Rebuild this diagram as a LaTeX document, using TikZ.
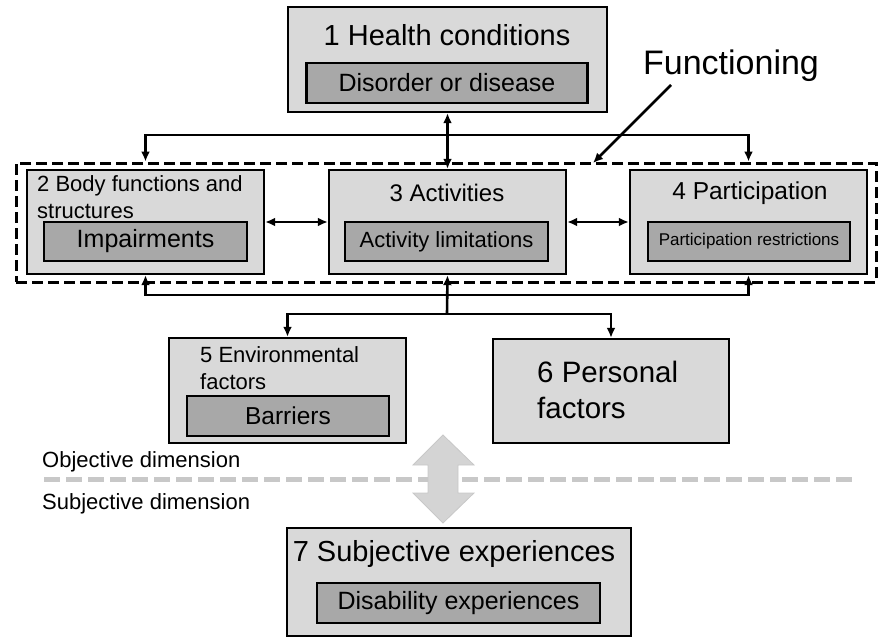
\documentclass[tikz,border=0pt]{standalone}
\usepackage{fontspec}
\setmainfont{Liberation Sans}
\usepackage{tikz}
\usetikzlibrary{shapes,arrows,arrows.meta,positioning}
\usepackage{color}

\definecolor{boxgray}{RGB}{217,217,217}
\definecolor{innergray}{RGB}{168,168,168}
\definecolor{linegray}{RGB}{200,200,200}
\definecolor{arrowgray}{RGB}{212,212,212}

\newcommand{\px}[1]{\fontsize{#1}{#1}\selectfont}

\tikzset{
  outerbox/.style={draw=black,fill=boxgray,line width=2.4pt,inner sep=0pt},
  innerbox/.style={draw=black,fill=innergray,line width=2.4pt,inner sep=0pt},
  lbl/.style={inner sep=0pt},
  link/.style={line width=2.6pt,>={Latex[length=10pt,width=9pt]}}
}

\begin{document}
\begin{tikzpicture}[x=1pt,y=-1pt]
	\useasboundingbox (0,0) rectangle (879,637);
	%% the boxes
	\node[outerbox,minimum width=319pt,minimum height=105pt] (hc) at (447.5,59.5) {};
	\node[innerbox,minimum width=281pt,minimum height=40pt,font=\px{25}] (hcin) at (447,83) {Disorder or disease};
	\node[lbl,font=\px{29}] (hctxt) at (447,35) {1 Health conditions};
	% functioning frame
	\node[draw=black,dashed,dash pattern=on 11pt off 5pt,line width=3pt,minimum width=860pt,minimum height=119pt,inner sep=0pt] (func) at (446,222.5) {};
	\node[outerbox,minimum width=237pt,minimum height=104pt] (bf) at (145.5,222) {};
	\node[innerbox,minimum width=203pt,minimum height=39pt,font=\px{25}] (bfin) at (145.5,241.5) {Impairments};
	\node[lbl,anchor=west,align=left,font=\px{22}] (bftxt) at (37,197) {2 Body functions and\\[5pt]structures};
	\node[outerbox,minimum width=237pt,minimum height=104pt] (act) at (447.5,222) {};
	\node[innerbox,minimum width=203pt,minimum height=39pt,font=\px{22}] (actin) at (446.5,241.5) {Activity limitations};
	\node[lbl,font=\px{24}] (acttxt) at (447,193) {3 Activities};
	\node[outerbox,minimum width=237pt,minimum height=104pt] (par) at (748.5,222) {};
	\node[innerbox,minimum width=202pt,minimum height=39pt,font=\px{17}] (parin) at (749,241.5) {Participation restrictions};
	\node[lbl,font=\px{24.5}] (partxt) at (750,193) {4 Participation};
	\node[outerbox,minimum width=237pt,minimum height=105pt] (env) at (287.5,390.5) {};
	\node[innerbox,minimum width=202pt,minimum height=40pt,font=\px{24.5}] (envin) at (288,416) {Barriers};
	\node[lbl,anchor=west,align=left,font=\px{22}] (envtxt) at (200,368) {5 Environmental\\[5pt]factors};
	\node[outerbox,minimum width=236pt,minimum height=104pt] (pers) at (611,391) {};
	\node[lbl,anchor=west,align=left,font=\px{29.5}] (perstxt) at (537,390) {6 Personal\\[6pt]factors};
	\node[outerbox,minimum width=344pt,minimum height=108pt] (subj) at (459,582) {};
	\node[innerbox,minimum width=283pt,minimum height=40pt,font=\px{25}] (subjin) at (458.5,603) {Disability experiences};
	\node[lbl,font=\px{29}] (subjtxt) at (454,554) {7 Subjective experiences};
	%% the labels
	\node[lbl,font=\px{34}] (functxt) at (731,66) {Functioning};
	\node[lbl,anchor=west,font=\px{22}] (objtxt) at (42,462) {Objective dimension};
	\node[lbl,anchor=west,font=\px{22}] (subtxt) at (42,504) {Subjective dimension};
	%% the connectors
	\coordinate (top) at (447,135);
	\coordinate (mid) at (447,295);
	\coordinate (low) at (447,314);
	\draw[link,<->] (hc.south) -- (act.north);
	\draw[link,->] (top) -| (bf.north |- func.north);
	\draw[link,->] (top) -| (par.north |- func.north);
	\draw[link,<->] (bf.east) -- (act.west);
	\draw[link,<->] (act.east) -- (par.west);
	\draw[link,->] (low) -- (act.south);
	\draw[link,->] (mid) -| (bf.south);
	\draw[link,->] (mid) -| (par.south);
	\draw[link,->] (low) -| (env.north);
	\draw[link,->] (low) -| (pers.north);
	\coordinate (funcfoot) at (671,85);
	\coordinate (funchit) at (593,163);
	\draw[link,->] (funcfoot) -- (funchit);
	% objective / subjective split
	\draw[linegray,line width=5pt,dash pattern=on 16pt off 6pt] (44,479) -- (857,479);
	\draw[fill=arrowgray,draw=linegray,line width=0.8pt] (443,435) -- (474,465) -- (458,465) -- (458,493) -- (474,493) -- (443,523) -- (413,493) -- (428,493) -- (428,465) -- (413,465) -- cycle;
\end{tikzpicture}
\end{document}
